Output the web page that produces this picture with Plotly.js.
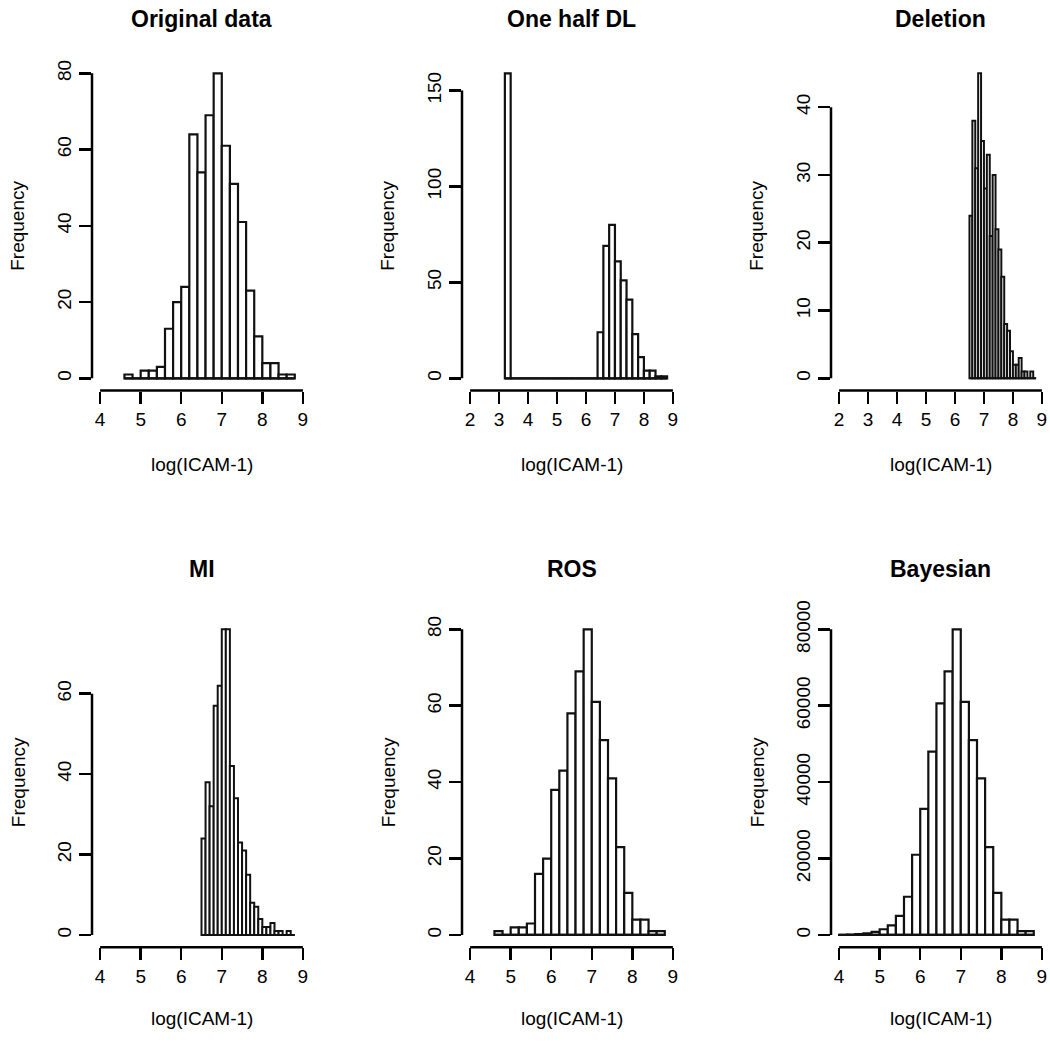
<!DOCTYPE html>
<html><head><meta charset="utf-8">
<script src="https://cdn.plot.ly/plotly-3.0.1.min.js"></script>
<style>html,body{margin:0;padding:0;background:#fff}</style>
</head><body><div id="chart" style="width:1050px;height:1050px"></div>
<script>
// ---------- data ----------
const panelTitles = ["Original data", "One half DL", "Deletion", "MI", "ROS", "Bayesian"];
const xTitle = "log(ICAM-1)";
const yTitle = "Frequency";

// lower bin edges and counts
const origEdges  = [4.6,4.8,5.0,5.2,5.4,5.6,5.8,6.0,6.2,6.4,6.6,6.8,7.0,7.2,7.4,7.6,7.8,8.0,8.2,8.4,8.6];
const origCounts = [1,0,2,2,3,13,20,24,64,54,69,80,61,51,41,23,11,4,4,1,1];

const halfEdges  = [3.2,3.4,3.6,3.8,4.0,4.2,4.4,4.6,4.8,5.0,5.2,5.4,5.6,5.8,6.0,6.2,6.4,6.6,6.8,7.0,7.2,7.4,7.6,7.8,8.0,8.2,8.4,8.6];
const halfCounts = [159,0,0,0,0,0,0,0,0,0,0,0,0,0,0,0,24,69,80,61,51,41,23,11,4,4,1,1];

const delEdges  = [6.5,6.6,6.7,6.8,6.9,7.0,7.1,7.2,7.3,7.4,7.5,7.6,7.7,7.8,7.9,8.0,8.1,8.2,8.3,8.4,8.5,8.6,8.7];
const delCounts = [24,38,31,45,35,28,33,21,30,22,19,15,8,7,4,2,2,3,1,1,0,1,0];

const miEdges  = [6.5,6.6,6.7,6.8,6.9,7.0,7.1,7.2,7.3,7.4,7.5,7.6,7.7,7.8,7.9,8.0,8.1,8.2,8.3,8.4,8.5,8.6,8.7];
const miCounts = [24,38,32,57,62,76,76,42,34,23,21,15,8,7,4,2,2,3,1,1,0,1,0];

const rosEdges  = [4.6,4.8,5.0,5.2,5.4,5.6,5.8,6.0,6.2,6.4,6.6,6.8,7.0,7.2,7.4,7.6,7.8,8.0,8.2,8.4,8.6];
const rosCounts = [1,0,2,2,3,16,20,38,43,58,69,80,61,51,41,23,11,4,4,1,1];

const bayesEdges  = [4.0,4.2,4.4,4.6,4.8,5.0,5.2,5.4,5.6,5.8,6.0,6.2,6.4,6.6,6.8,7.0,7.2,7.4,7.6,7.8,8.0,8.2,8.4,8.6];
const bayesCounts = [50,100,200,400,800,1500,2500,5000,10000,21000,33000,48000,60600,69000,80000,61000,51000,41000,23000,11000,4000,4000,1000,1000];

const binWidths = [0.2, 0.2, 0.1, 0.1, 0.2, 0.2];

const xTicksA = [4,5,6,7,8,9];
const xTicksB = [2,3,4,5,6,7,8,9];
const yTicksOrig  = [0,20,40,60,80];
const yTicksHalf  = [0,50,100,150];
const yTicksDel   = [0,10,20,30,40];
const yTicksMI    = [0,20,40,60];
const yTicksROS   = [0,20,40,60,80];
const yTicksBayes = [0,20000,40000,60000,80000];

// ---------- layout helpers ----------
const W = 1050, H = 1050;
const colLeft = [92, 462, 831];
const plotW = 219;
const rowTop = [61.1, 617.1], rowBottom = [390.5, 947.2];
const titleY = [19, 569];
const xTitleY = [464, 1018];
const yTitleDX = 74;

const panels = [
  {edges: origEdges,  counts: origCounts,  xt: xTicksA, yt: yTicksOrig,  xr:[4,9]},
  {edges: halfEdges,  counts: halfCounts,  xt: xTicksB, yt: yTicksHalf,  xr:[2,9]},
  {edges: delEdges,   counts: delCounts,   xt: xTicksB, yt: yTicksDel,   xr:[2,9]},
  {edges: miEdges,    counts: miCounts,    xt: xTicksA, yt: yTicksMI,    xr:[4,9]},
  {edges: rosEdges,   counts: rosCounts,   xt: xTicksA, yt: yTicksROS,   xr:[4,9]},
  {edges: bayesEdges, counts: bayesCounts, xt: xTicksA, yt: yTicksBayes, xr:[4,9]}
];

const FONT = "Liberation Sans, Arial, Helvetica, sans-serif";
const data = [], shapes = [], annotations = [];
const layout = {
  width: W, height: H, margin: {l:0, r:0, t:0, b:0},
  paper_bgcolor: "white", plot_bgcolor: "white",
  showlegend: false, bargap: 0,
  font: {family: FONT, size: 19, color: "#000"}
};

panels.forEach((p, i) => {
  const s = i === 0 ? "" : String(i + 1);
  const row = Math.floor(i / 3), col = i % 3;
  const bw = binWidths[i];
  const lw = bw < 0.15 ? 2 : 2.2;
  const maxC = Math.max(...p.counts);
  const ext = (p.xr[1] - p.xr[0]) * 0.04;
  const x0 = colLeft[col] / W, x1 = (colLeft[col] + plotW) / W;
  const y0 = 1 - rowBottom[row] / H, y1 = 1 - rowTop[row] / H;

  data.push({
    type: "bar", x: p.edges.map(e => e + bw / 2), y: p.counts, width: bw,
    marker: {color: "white", line: {color: "#111", width: lw}},
    xaxis: "x" + s, yaxis: "y" + s, hoverinfo: "skip"
  });
  data.push({
    type: "scatter", mode: "lines",
    x: [p.edges[0], p.edges[p.edges.length - 1] + bw], y: [0, 0],
    line: {color: "#111", width: lw}, xaxis: "x" + s, yaxis: "y" + s, hoverinfo: "skip"
  });

  layout["xaxis" + s] = {
    domain: [x0, x1], anchor: "y" + s, range: [p.xr[0] - ext, p.xr[1] + ext],
    showgrid: false, zeroline: false, showline: false,
    ticks: "outside", ticklen: 12, tickwidth: 2.5, tickcolor: "black",
    tickmode: "array", tickvals: p.xt, ticktext: p.xt.map(String),
    tickfont: {family: FONT, size: 19, color: "#000"}, fixedrange: true
  };
  layout["yaxis" + s] = {
    domain: [y0, y1], anchor: "x" + s, range: [-0.04 * maxC, 1.04 * maxC],
    showgrid: false, zeroline: false, showline: false,
    ticks: "outside", ticklen: 12, tickwidth: 2.5, tickcolor: "black",
    tickmode: "array", tickvals: p.yt, ticktext: p.yt.map(String), tickangle: -90,
    tickfont: {family: FONT, size: 19, color: "#000"}, fixedrange: true
  };

  shapes.push({type: "line", xref: "x" + s + " domain", yref: "y" + s,
    x0: 0, x1: 0, y0: p.yt[0], y1: p.yt[p.yt.length - 1], line: {color: "black", width: 2.5}});
  shapes.push({type: "line", xref: "x" + s, yref: "y" + s + " domain",
    x0: p.xt[0], x1: p.xt[p.xt.length - 1], y0: 0, y1: 0, line: {color: "black", width: 2.5}});

  annotations.push({text: "<b>" + panelTitles[i] + "</b>", xref: "paper", yref: "paper",
    x: (x0 + x1) / 2, y: 1 - titleY[row] / H, showarrow: false, xanchor: "center", yanchor: "middle",
    font: {family: FONT, size: 23, color: "#000"}});
  annotations.push({text: xTitle, xref: "paper", yref: "paper",
    x: (x0 + x1) / 2, y: 1 - xTitleY[row] / H, showarrow: false, xanchor: "center", yanchor: "middle",
    font: {family: FONT, size: 19, color: "#000"}});
  annotations.push({text: yTitle, xref: "paper", yref: "paper", textangle: -90,
    x: (colLeft[col] - yTitleDX) / W, y: (y0 + y1) / 2, showarrow: false, xanchor: "center", yanchor: "middle",
    font: {family: FONT, size: 19, color: "#000"}});
});

layout.shapes = shapes;
layout.annotations = annotations;
Plotly.newPlot("chart", data, layout, {staticPlot: true, displayModeBar: false});
</script>
</body></html>
